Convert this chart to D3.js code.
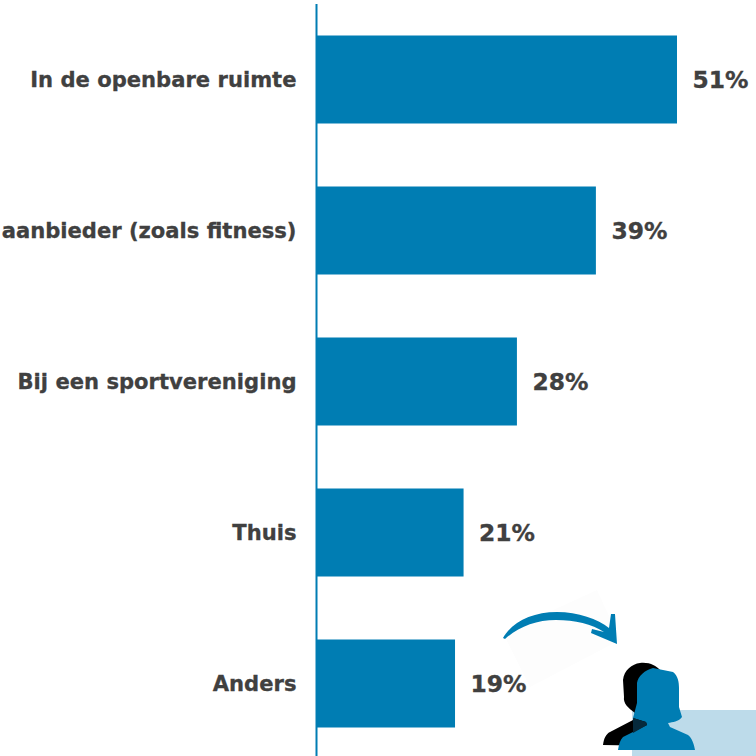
<!DOCTYPE html>
<html><head><meta charset="utf-8"><script src="https://cdn.jsdelivr.net/npm/d3@7"></script>
<style>html,body{margin:0;background:#fff}svg{display:block}text{font-family:"DejaVu Sans",Verdana,sans-serif;font-weight:700;fill:#404040;stroke:#404040;stroke-width:.3px}</style></head><body>
<svg id="c" width="756" height="756"></svg>
<script>
const categories=["In de openbare ruimte","Bij een commerciële aanbieder (zoals fitness)","Bij een sportvereniging","Thuis","Anders"];
const values=[50.6,39.2,28.1,20.6,19.4];
const valueLabels=["51%","39%","28%","21%","19%"];
const svg=d3.select("#c");
const blue="#007db3";
const x=d3.scaleLinear().domain([0,50.6]).range([317,677]);
const y=d3.scalePoint().domain(categories).range([35.5,639.5]);
const bh=88;
svg.append("polygon").attr("points","503,633 597,590 620,640 530,687").attr("fill","#fdfdfd");
svg.selectAll("rect.b").data(values).join("rect").attr("class","b").attr("x",x(0)).attr("y",(d,i)=>y(categories[i])).attr("width",d=>x(d)-x(0)).attr("height",bh).attr("fill",blue);
svg.append("line").attr("x1",316.5).attr("x2",316.5).attr("y1",4).attr("y2",756).attr("stroke",blue).attr("stroke-width",2);
svg.selectAll("text.c").data(categories).join("text").attr("class","c").attr("x",296.5).attr("y",d=>y(d)+bh/2+7).attr("text-anchor","end").attr("font-size",21.1).text(d=>d);
svg.selectAll("text.v").data(valueLabels).join("text").attr("class","v").attr("x",(d,i)=>x(values[i])+15.5).attr("y",(d,i)=>y(categories[i])+bh/2+8).attr("font-size",23.4).text(d=>d);
// decoration
svg.append("rect").attr("x",632).attr("y",710).attr("width",124).attr("height",46).attr("fill","#bddbea");
svg.append("path").attr("d","M503 638C512 622 532 612 557 612C578 612 598 619 609 628L611 614L615 614L617 644L591 633L592 629L604 632C592 624 575 620 556 620C536 620 518 627 505 639Z").attr("fill",blue);
svg.append("path").attr("d","M640 663C650 662 656 666 660 670L660 746L603 745C604 738 606 734 610 732L633 720L635 713C628 708 623 703 624 697L623 680C624 670 632 664 640 663Z").attr("fill","#000");
svg.append("path").attr("d","M653 668L673 672C678 676 679 682 679 688L679 707L682 717C678 722 673 722 668 723L670 727L688 735C692 738 694 744 695 750L618 750C619 744 620 740 623 737L647 725L646 722L633 718L637 703L637 683C638 676 645 670 653 668Z").attr("fill",blue);
svg.append("path").attr("d","M633 718L646 722L647 725L633 733Z").attr("fill","#062a3c");
</script></body></html>
